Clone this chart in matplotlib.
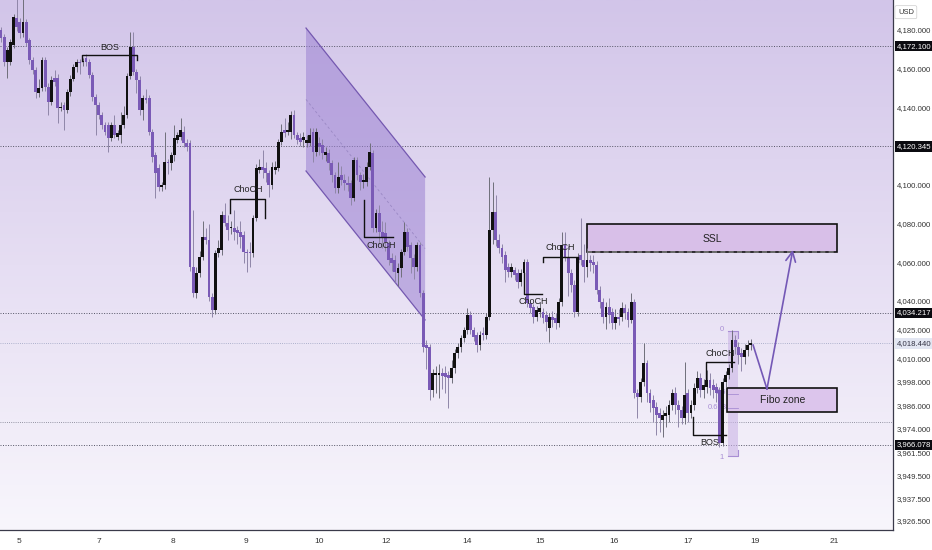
import numpy as np
import matplotlib
matplotlib.use("Agg")
from matplotlib import pyplot as plt
from matplotlib.colors import LinearSegmentedColormap
from matplotlib.patches import Polygon, Rectangle
import matplotlib.transforms as mtransforms

plt.rcParams['font.family'] = ['Liberation Sans', 'DejaVu Sans']

# hourly candles
opens = [
    4180.5, 4176.9, 4164, 4164, 4172.7, 4186.7, 4184.6, 4178.9, 4184.6, 4175.3,
    4165, 4159.8, 4147.9, 4150.5, 4165, 4151, 4143.3, 4155.7, 4155.7, 4140.2,
    4141.7, 4139.1, 4148.4, 4155.2, 4161.4, 4164, 4164, 4166, 4164, 4157.2,
    4145.9, 4141.7, 4136.5, 4131.4, 4131.4, 4124.7, 4131.4, 4125.2, 4126.2, 4131.4,
    4136.5, 4156.7, 4171.7, 4158.8, 4154.6, 4139.1, 4145.3, 4145.3, 4127.8, 4115.9,
    4109.1, 4099.3, 4100.4, 4112.2, 4111.7, 4115.9, 4123.6, 4125.2, 4127.8, 4122.1,
    4122.1, 4058, 4044.5, 4054.9, 4063.1, 4073.5, 4071.9, 4042.5, 4035.7, 4065.2,
    4066.8, 4084.8, 4080.7, 4078.1, 4078.1, 4077.1, 4076.1, 4074.5, 4065.7, 4065.7,
    4065.2, 4083.3, 4108.1, 4109.7, 4109.1, 4106.6, 4100.4, 4108.1, 4109.1, 4122.6,
    4128.8, 4127.8, 4127.8, 4136.5, 4126.2, 4124.7, 4123.6, 4122.1, 4122.1, 4127.8,
    4117.4, 4122.1, 4121, 4115.9, 4116.9, 4111.7, 4105.5, 4098.8, 4105.5, 4102.9,
    4101.4, 4101.4, 4093.6, 4113.3, 4105.5, 4101.9, 4101.9, 4109.7, 4116.9, 4078.1,
    4085.9, 4076.1, 4075.5, 4070.4, 4062.6, 4061.6, 4054.9, 4057.4, 4065.7, 4076.1,
    4069.3, 4062.6, 4058, 4069.3, 4044.5, 4017.6, 4016.6, 3994.4, 4002.1, 4002.1,
    4003.2, 4003.2, 4002.1, 4000.6, 4005.7, 4013.5, 4016.6, 4021.3, 4025.4, 4033.1,
    4025.4, 4022.8, 4017.6, 4023.8, 4022.8, 4032.1, 4077.1, 4086.4, 4071.9, 4067.8,
    4064.2, 4058, 4055.4, 4056.4, 4054.9, 4050.2, 4054.9, 4060.5, 4039.3, 4037.3,
    4032.1, 4034.7, 4034.7, 4033.1, 4026.4, 4032.1, 4031.6, 4029, 4039.9, 4069.3,
    4063.1, 4054.9, 4048.7, 4034.7, 4064.2, 4061.6, 4058, 4061.6, 4060.5, 4059,
    4046.1, 4039.9, 4032.1, 4037.3, 4034.7, 4029, 4032.1, 4032.1, 4036.8, 4034.7,
    4030.6, 4039.9, 3992.8, 3990.8, 3998.5, 4008.3, 3992.8, 3989.2, 3985.6, 3982.5,
    3978.9, 3980.9, 3981.4, 3986.6, 3992.8, 3986.6, 3984, 3979.9, 3992.8, 3982.5,
    3986.6, 3995.4, 4000.6, 3994.4, 3995.9, 3999.5, 3997, 3995.9, 3994.4, 3967,
    3998.5, 4002.1, 4005.7, 4020.2, 4016.6, 4013.5, 4011.4, 4015.1, 4017.6,
]
closes = [
    4176.4, 4164, 4170.2, 4174.3, 4187.2, 4182, 4178.9, 4184.6, 4173.8, 4165,
    4159.8, 4148.4, 4150.5, 4165, 4151, 4143.3, 4154.6, 4153.6, 4140.2, 4140.7,
    4139.1, 4148.4, 4155.2, 4161.4, 4164, 4163.4, 4164.5, 4164, 4157.2, 4145.9,
    4141.7, 4136.5, 4131.4, 4127.8, 4124.7, 4131.4, 4126.2, 4127.2, 4131.4, 4136.5,
    4156.7, 4171.7, 4158.8, 4154.6, 4139.1, 4145.3, 4144.3, 4127.8, 4114.8, 4106.6,
    4099.3, 4100.4, 4112.2, 4111.7, 4115.9, 4124.7, 4126.2, 4128.8, 4122.1, 4120,
    4058, 4044.5, 4054.9, 4063.1, 4073.5, 4071.9, 4042.5, 4035.7, 4065.2, 4067.8,
    4084.8, 4080.7, 4077.1, 4078.6, 4076.1, 4075.5, 4073.5, 4065.7, 4065.2, 4065.2,
    4083.3, 4109.1, 4109.7, 4108.1, 4106.6, 4100.4, 4109.7, 4109.7, 4122.6, 4127.8,
    4127.2, 4128.8, 4136.5, 4126.2, 4123.6, 4122.6, 4125.2, 4123.6, 4126.2, 4117.4,
    4127.8, 4120, 4116.9, 4117.4, 4111.7, 4105.5, 4098.8, 4104.5, 4102.9, 4101.4,
    4100.4, 4093.6, 4113.3, 4105.5, 4101.9, 4102.9, 4109.7, 4117.4, 4078.1, 4085.9,
    4076.1, 4073.5, 4070.9, 4061.6, 4060, 4055.4, 4057.4, 4065.7, 4076.1, 4068.3,
    4062.6, 4058, 4069.3, 4044.5, 4016.6, 4016.1, 3994.4, 4003.2, 4003.2, 4003.2,
    4001.6, 4001.1, 4000.6, 4005.7, 4013.5, 4016.6, 4021.3, 4025.4, 4033.1, 4025.4,
    4021.8, 4017.6, 4022.8, 4022.8, 4032.1, 4077.1, 4086.4, 4071.9, 4067.8, 4063.1,
    4056.4, 4055.4, 4058, 4053.8, 4050.2, 4054.9, 4060.5, 4039.3, 4036.8, 4032.1,
    4035.7, 4036.8, 4031.6, 4029.5, 4032.1, 4030.6, 4029, 4039.9, 4069.3, 4063.1,
    4054.9, 4048.7, 4034.7, 4063.1, 4061.6, 4058, 4061.6, 4060, 4059, 4046.1,
    4039.9, 4032.1, 4037.3, 4033.1, 4029, 4032.1, 4031.1, 4036.8, 4034.2, 4030.6,
    4039.9, 3992.8, 3990.8, 3998.5, 4008.3, 3992.8, 3987.6, 3985.1, 3981.4, 3979.9,
    3981.4, 3982.5, 3986.6, 3992.8, 3986.6, 3984, 3979.9, 3991.8, 3982.5, 3986.6,
    3995.4, 4000.6, 3994.4, 3997, 3999.5, 3995.4, 3994.4, 3992.8, 3967, 3998.5,
    4002.1, 4005.7, 4020.2, 4016.6, 4012.5, 4011.4, 4015.1, 4017.6, 4018.44,
]
highs = [
    4182, 4178.5, 4171.5, 4176, 4189, 4197, 4186.5, 4197, 4186, 4176.5,
    4166.5, 4161.5, 4155, 4166.5, 4166.5, 4153, 4156.5, 4160, 4157.5, 4143.5,
    4143.5, 4150, 4157, 4163, 4165.5, 4165.5, 4166, 4168, 4165.5, 4159,
    4147.5, 4143.3, 4138, 4133, 4133, 4133, 4136.5, 4129, 4138, 4141,
    4158.5, 4179.5, 4179.5, 4160.5, 4156.5, 4147, 4150, 4147, 4129.5, 4117.5,
    4111, 4102, 4127.8, 4114, 4117.5, 4131.4, 4128, 4135, 4131, 4124,
    4123.5, 4087.4, 4058, 4066, 4082, 4078, 4080, 4044.5, 4067, 4072,
    4087, 4091, 4085, 4082, 4087.4, 4079, 4082, 4076.5, 4067.5, 4071,
    4085, 4111, 4114, 4118.4, 4112, 4108, 4112, 4113, 4124, 4132,
    4135, 4133, 4138.5, 4139, 4128, 4127, 4128, 4126, 4130, 4130,
    4130, 4125, 4124, 4120, 4119, 4113.5, 4107, 4112, 4110, 4106,
    4105, 4103, 4115, 4115, 4107, 4106, 4112, 4122.1, 4118.5, 4088,
    4090, 4082, 4081, 4072, 4065, 4064, 4060, 4067.5, 4081, 4078,
    4071, 4064.5, 4071, 4071, 4046, 4020, 4018, 4005, 4007, 4008,
    4006, 4007, 4004, 4010, 4015.5, 4018.5, 4023, 4027, 4037, 4035,
    4027, 4024.5, 4025, 4027, 4034, 4104.5, 4101.9, 4095, 4075, 4070,
    4066, 4060, 4060, 4058, 4057, 4057, 4062, 4062, 4041, 4039,
    4038, 4040, 4037, 4035, 4034, 4035, 4034, 4042, 4076, 4076,
    4069, 4057, 4051, 4065, 4083.3, 4070, 4068, 4064, 4064, 4061,
    4048, 4042, 4040, 4042, 4037, 4036, 4036, 4040, 4039, 4037,
    4044.5, 4041.5, 3995, 4000.5, 4018.7, 4010, 3995, 3992, 3988, 3985,
    3984, 3986, 3989, 3995, 3996, 3989, 3986, 4008.8, 3995, 3989,
    3998, 4004, 4003, 4000, 4004.7, 4003, 4000, 3998, 3996, 4000.5,
    4004, 4008, 4025.4, 4023, 4019, 4016, 4018, 4020, 4021,
]
lows = [
    4174.5, 4162, 4155.7, 4162.5, 4171, 4180, 4176.5, 4177, 4172, 4163,
    4158, 4145.5, 4146, 4149, 4149, 4136.5, 4141.5, 4151.5, 4132.4, 4138.5,
    4128.8, 4137.5, 4146.5, 4154, 4159, 4158, 4162, 4162, 4155.5, 4144,
    4126.2, 4134.5, 4129.5, 4126, 4117.4, 4123, 4124.5, 4123.5, 4122, 4130,
    4135, 4155, 4157, 4148, 4136.5, 4134, 4142.5, 4126, 4112, 4093.6,
    4097, 4097.5, 4098.5, 4106, 4108, 4113, 4122, 4123.5, 4120, 4118,
    4056, 4042.5, 4042, 4053, 4061.5, 4070, 4040.5, 4032, 4033.5, 4063,
    4064, 4079, 4072, 4075, 4072, 4070, 4068, 4060, 4055.4, 4058,
    4063, 4081.5, 4106.5, 4104, 4102, 4094, 4098.5, 4106, 4107.5, 4121,
    4125, 4126, 4124, 4124.5, 4121.5, 4120.5, 4120, 4120, 4120.5, 4112,
    4115.5, 4116, 4114, 4113, 4108, 4102, 4096, 4096, 4100.5, 4098,
    4097, 4090, 4092, 4103, 4098, 4099, 4100, 4108, 4076, 4076,
    4070, 4068, 4066, 4059, 4056, 4050, 4048, 4053, 4064, 4066,
    4055, 4052, 4056, 4042.5, 4014, 4005, 3989.2, 3991, 3993, 3990,
    3995, 3993, 3985.1, 3998, 4003, 4011, 4014, 4019, 4023.5, 4023.5,
    4019.5, 4014, 4015, 4020, 4021, 4030.5, 4070, 4069, 4065, 4060,
    4050, 4053, 4053, 4051, 4047, 4048, 4053, 4037.5, 4034, 4029,
    4030, 4032, 4029, 4025, 4019, 4027, 4026, 4027, 4038, 4061,
    4043, 4045, 4032, 4032.5, 4059, 4050, 4053, 4056, 4055, 4044,
    4037, 4029, 4026, 4029, 4026, 4026, 4028, 4030, 4031, 4027,
    4029, 3990, 3979.9, 3988, 3996.5, 3988, 3983, 3978, 3971.1, 3972.7,
    3970.1, 3975, 3978, 3984, 3982, 3975, 3977, 3977, 3978, 3980,
    3984, 3993, 3991, 3990, 3993, 3992, 3990, 3988, 3965, 3965.5,
    3996, 4000, 4003.5, 4013, 4008, 4004, 4008, 4012, 4015,
]

# day labels (position in candle index)
day_pos = [5.7, 31.1, 54.6, 77.8, 100.9, 122.2, 147.9, 171.1, 194.5, 218.0, 239.3, 264.4]
day_labels = ["5", "7", "8", "9", "10", "12", "14", "15", "16", "17", "19", "21"]

price_ticks = [4180, 4160, 4140, 4100, 4080, 4060, 4040, 4025, 4010, 3998,
               3986, 3974, 3961.5, 3949.5, 3937.5, 3926.5]
marked_levels = [4172.100, 4120.345, 4034.217, 3966.078]
last_price = 4018.440
extra_level = 3978.0

UP = "#111111"
DOWN = "#7a5ab6"

fig = plt.figure(figsize=(9.32, 5.5), dpi=100)
ax = fig.add_axes([0, 20 / 550, 893 / 932, 530 / 550])

x0, x1 = -0.32, 283.1
y0, y1 = 3922.0, 4196.0

# background gradient
cmap = LinearSegmentedColormap.from_list("bg", ["#f8f6fc", "#e6def3", "#d2c5e9"])
grad = np.linspace(0, 1, 256).reshape(-1, 1)
ax.imshow(grad, extent=[x0, x1, y0, y1], origin="lower", aspect="auto", cmap=cmap, zorder=0)

# level lines
for lv in marked_levels:
    ax.axhline(lv, color="#555566", lw=0.7, ls=(0, (1, 1.6)), zorder=1)
ax.axhline(extra_level, color="#777788", lw=0.6, ls=(0, (1, 1.6)), zorder=1)
ax.axhline(last_price, color="#9aa0c0", lw=0.6, ls=(0, (1, 1.6)), zorder=1)

# descending channel
chan = Polygon([(96.8, 4181.5), (134.6, 4104.5), (134.6, 4030.6), (96.8, 4107.6)],
               closed=True, facecolor="#9c82d2", alpha=0.55, edgecolor="none", zorder=1.5)
ax.add_patch(chan)
ax.plot([96.8, 134.6], [4181.5, 4104.5], color="#7458b0", lw=0.9, zorder=1.6)
ax.plot([96.8, 134.6], [4107.6, 4030.6], color="#7458b0", lw=0.9, zorder=1.6)
ax.plot([96.8, 134.6], [4144.6, 4067.5], color="#9a88c4", lw=0.6, ls=(0, (3, 3)), zorder=1.6)

# SSL box
ax.add_patch(Rectangle((186, 4065.7), 79.3, 14.5, facecolor="#d8bfe8",
                       edgecolor="#111111", lw=1.2, zorder=1.8))
ax.plot([186, 265.3], [4065.7, 4065.7], color="#777777", lw=1.2, ls=(0, (3, 2)), zorder=1.9)
ax.text(225.6, 4072.5, "SSL", fontsize=7.5, ha="center", va="center", color="#222222", zorder=5)

# fibo strip
ax.fill_between([230.7, 233.9], 3960.2, 4024.9, color="#cbb5e6", alpha=0.6, lw=0, zorder=1.7)
fib_col = "#a88ed4"
ax.plot([230.7, 233.9, 233.9], [4024.9, 4024.9, 4021.5], color=fib_col, lw=0.8, zorder=1.9)
ax.plot([230.7, 233.9, 233.9], [3960.2, 3960.2, 3963.5], color=fib_col, lw=0.8, zorder=1.9)
ax.plot([230.7, 233.9], [3992.5, 3992.5], color=fib_col, lw=0.6, zorder=1.9)
ax.plot([230.7, 233.9], [3985.2, 3985.2], color=fib_col, lw=0.6, zorder=1.9)
ax.text(229.4, 4025.5, "0", fontsize=5.5, ha="right", va="center", color=fib_col, zorder=1.9)
ax.text(229.4, 3959.5, "1", fontsize=5.5, ha="right", va="center", color=fib_col, zorder=1.9)
ax.text(230.2, 3985.5, "0.618", fontsize=5.5, ha="right", va="center", color=fib_col, zorder=1.9)
ax.text(230.2, 3993.0, "0.5", fontsize=5.5, ha="right", va="center", color=fib_col, zorder=1.9)

# Fibo zone box
ax.add_patch(Rectangle((230.4, 3983.0), 34.9, 12.4, facecolor="#dcc5ec",
                       edgecolor="#111111", lw=1.2, zorder=1.8))
ax.text(248.2, 3989.0, "Fibo zone", fontsize=7.5, ha="center", va="center", color="#222222", zorder=5)

# candles
idx = np.arange(len(opens))
o = np.array(opens)
c = np.array(closes)
h = np.array(highs)
l = np.array(lows)
up = c >= o
colors = np.where(up, UP, DOWN)
wick_colors = np.where(up, "#6f6f7a", "#8f86a8")
ax.vlines(idx, l, h, colors=wick_colors, lw=0.7, zorder=3)
body = np.maximum(np.abs(c - o), 0.7)
ax.bar(idx, body, bottom=np.minimum(o, c), width=0.9, color=colors, lw=0, zorder=3.5)

# structure marks
mark = dict(color="#111111", lw=1.0, zorder=4)
txt = dict(fontsize=6.5, ha="center", va="center", color="#222222", zorder=5)

ax.plot([25.7, 25.7, 43.2, 43.2], [4164.5, 4167.6, 4167.6, 4165.0], **mark)
ax.text(34.6, 4171.7, "BOS", **txt)

ax.plot([72.7, 72.7, 83.8, 83.8], [4085.9, 4093.1, 4093.1, 4083.3], **mark)
ax.text(78.4, 4097.8, "ChoCH", **txt)

ax.plot([115.2, 115.2, 124.4], [4092.6, 4073.5, 4073.5], **mark)
ax.text(120.6, 4069.3, "ChoCH", **txt)

ax.plot([166.0, 166.0, 171.7], [4054.9, 4044.0, 4044.0], **mark)
ax.text(168.8, 4039.9, "ChoCH", **txt)

ax.plot([172.0, 172.0, 183.1, 183.1], [4060.5, 4063.1, 4063.1, 4060.5], **mark)
ax.text(177.4, 4068.3, "ChoCH", **txt)

ax.plot([223.7, 223.7, 232.6], [3999.5, 4008.8, 4008.8], **mark)
ax.text(228.2, 4013.0, "ChoCH", **txt)

ax.plot([219.6, 219.6, 230.1], [3980.4, 3971.1, 3971.1], **mark)
ax.text(225.0, 3967.0, "BOS", **txt)

# projected path
arrow_col = "#7458b6"
ax.plot([238.7, 243.1], [4017.6, 3994.9], color=arrow_col, lw=1.2, zorder=4)
ax.annotate("", xy=(251.3, 4066.8), xytext=(243.1, 3994.9),
            arrowprops=dict(arrowstyle="->,head_length=0.7,head_width=0.35",
                            color=arrow_col, lw=1.2, shrinkA=0, shrinkB=0), zorder=4)

ax.set_xlim(x0, x1)
ax.set_ylim(y0, y1)

# axes frame
for side in ["top", "left"]:
    ax.spines[side].set_visible(False)
for side in ["right", "bottom"]:
    ax.spines[side].set_color("#3a3a4a")
    ax.spines[side].set_linewidth(0.9)
ax.set_xticks([])
ax.set_yticks([])

# price scale
fs = 5.6
trans = mtransforms.blended_transform_factory(ax.transAxes, ax.transData)
for p in price_ticks:
    ax.text(1.0045, p, f"{p:,.3f}", transform=trans, fontsize=fs, ha="left", va="center",
            color="#333333", clip_on=False)
for p in marked_levels:
    ax.text(1.0045, p, f"{p:,.3f}", transform=trans, fontsize=fs, ha="left", va="center",
            color="white", clip_on=False,
            bbox=dict(boxstyle="square,pad=0.22", fc="#0b0b10", ec="none"))
ax.text(1.0045, last_price, f"{last_price:,.3f}", transform=trans, fontsize=fs, ha="left",
        va="center", color="#333344", clip_on=False,
        bbox=dict(boxstyle="square,pad=0.22", fc="#e2e6f2", ec="none"))
ax.text(1.0055, 0.977, "USD", transform=ax.transAxes, fontsize=5.4, ha="left", va="center",
        color="#333333", clip_on=False,
        bbox=dict(boxstyle="round,pad=0.4,rounding_size=0.2", fc="white", ec="#cccccc", lw=0.5))

# time scale
transx = mtransforms.blended_transform_factory(ax.transData, ax.transAxes)
for pos, lab in zip(day_pos, day_labels):
    ax.text(pos, -0.021, lab, transform=transx, fontsize=6, ha="center", va="center",
            color="#333333", clip_on=False)

fig.savefig("out.png", dpi=100, facecolor="white")
